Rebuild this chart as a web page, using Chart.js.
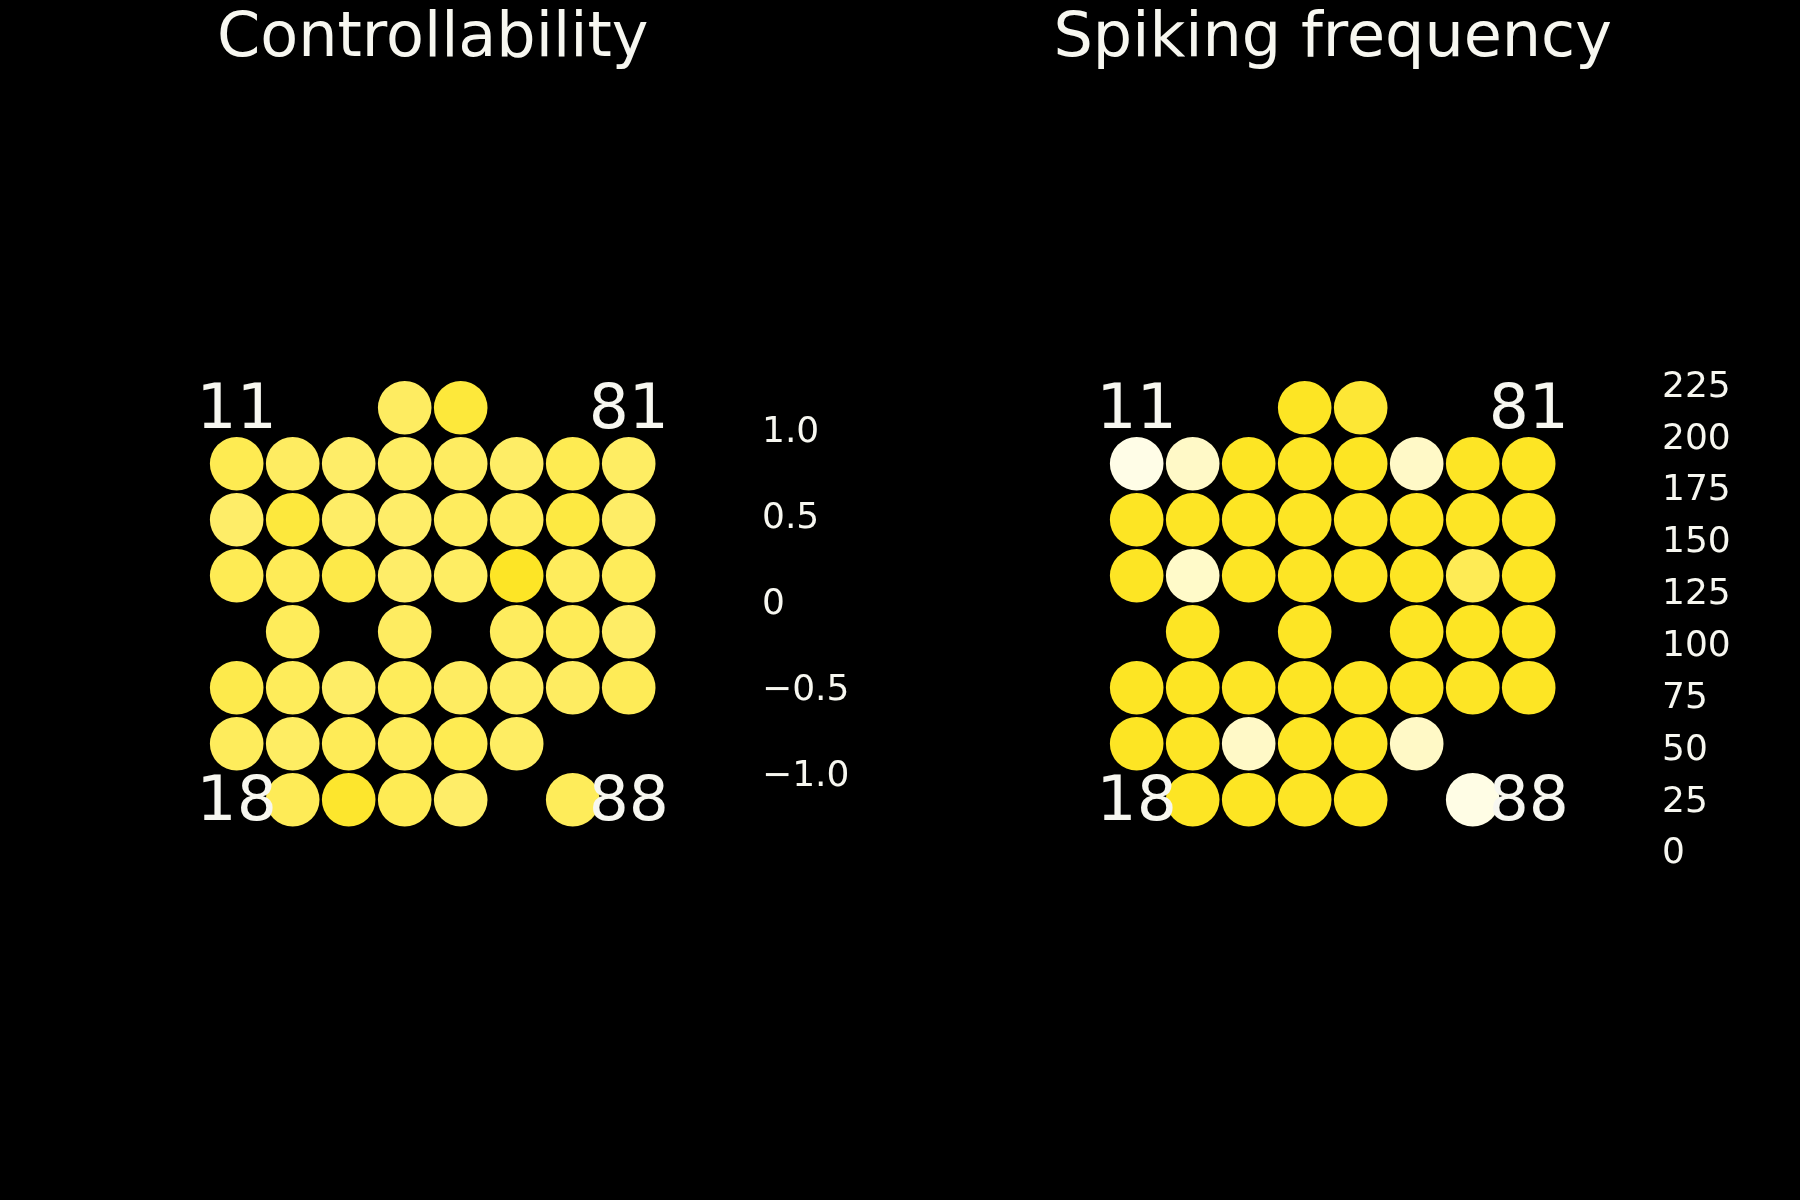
<!DOCTYPE html>
<html>
<head>
<meta charset="utf-8">
<script src="https://cdn.jsdelivr.net/npm/chart.js@4.4.1/dist/chart.umd.min.js"></script>
<style>
  html, body { margin: 0; padding: 0; background: #000; }
  #wrap { width: 1800px; height: 1200px; display: flex; }
  canvas { display: block; }
</style>
</head>
<body>
<div id="wrap">
  <canvas id="c1" width="900" height="1200"></canvas>
  <canvas id="c2" width="900" height="1200"></canvas>
</div>
<script>
// ---- data ----
// electrode id = column*10 + row (8x8 array, 11 top-left, 81 top-right, 18 bottom-left, 88 bottom-right)
const electrodes = [
  41, 51,
  12, 22, 32, 42, 52, 62, 72, 82,
  13, 23, 33, 43, 53, 63, 73, 83,
  14, 24, 34, 44, 54, 64, 74, 84,
  25, 45, 65, 75, 85,
  16, 26, 36, 46, 56, 66, 76, 86,
  17, 27, 37, 47, 57, 67,
  28, 38, 48, 58, 78
];
const controllability = [
  0.35, 0.72,
  0.50, 0.35, 0.28, 0.32, 0.35, 0.30, 0.50, 0.33,
  0.28, 0.70, 0.30, 0.28, 0.38, 0.40, 0.65, 0.30,
  0.48, 0.45, 0.58, 0.28, 0.33, 0.92, 0.40, 0.42,
  0.42, 0.35, 0.38, 0.45, 0.30,
  0.55, 0.42, 0.30, 0.42, 0.35, 0.33, 0.35, 0.45,
  0.40, 0.33, 0.45, 0.40, 0.50, 0.33,
  0.45, 0.85, 0.48, 0.28, 0.42
];
const spikingFrequency = [
  218, 200,
  5, 40, 218, 217, 219, 40, 217, 218,
  218, 217, 219, 218, 216, 218, 217, 218,
  218, 38, 218, 217, 218, 219, 165, 218,
  218, 217, 218, 219, 218,
  218, 219, 217, 218, 218, 219, 217, 218,
  218, 217, 40, 218, 219, 42,
  218, 219, 217, 218, 8
];
const cornerLabels = ['11', '81', '18', '88'];
const titles = ['Controllability', 'Spiking frequency'];
const ctrlTicks = [-1.0, -0.5, 0, 0.5, 1.0];
const ctrlTickLabels = ['\u22121.0', '\u22120.5', '0', '0.5', '1.0'];
const freqTicks = [0, 25, 50, 75, 100, 125, 150, 175, 200, 225];
const freqTickLabels = ['0', '25', '50', '75', '100', '125', '150', '175', '200', '225'];

// ---- colour map (pale ivory -> yellow) ----
const cmapLow = [255, 254, 236];
const cmapHigh = [253, 228, 30];
function cmap(t) {
  t = Math.max(0, Math.min(1, t));
  const c = cmapLow.map((lo, i) => Math.round(lo + (cmapHigh[i] - lo) * t));
  return `rgb(${c[0]},${c[1]},${c[2]})`;
}

const TEXT = '#f7f7f0';
Chart.defaults.font.family = "'DejaVu Sans', sans-serif";

const bgPlugin = {
  id: 'bg',
  beforeDraw(chart) {
    const ctx = chart.ctx;
    ctx.save();
    ctx.fillStyle = '#000';
    ctx.fillRect(0, 0, chart.width, chart.height);
    ctx.restore();
  }
};

const cornerPlugin = {
  id: 'corners',
  afterDatasetsDraw(chart) {
    const ctx = chart.ctx;
    const xs = chart.scales.x, ys = chart.scales.y;
    ctx.save();
    ctx.fillStyle = TEXT;
    ctx.font = "63px 'DejaVu Sans'";
    ctx.textAlign = 'center';
    ctx.textBaseline = 'middle';
    cornerLabels.forEach(lbl => {
      const col = Number(lbl[0]), row = Number(lbl[1]);
      ctx.fillText(lbl, xs.getPixelForValue(col), ys.getPixelForValue(row) + 4);
    });
    ctx.restore();
  }
};

function makeChart(id, title, values, vmin, vmax, ticks, tickLabels, cbMin, cbMax) {
  const points = electrodes.map((e, i) => ({ x: Math.floor(e / 10), y: e % 10, v: values[i] }));
  return new Chart(document.getElementById(id), {
    type: 'scatter',
    data: {
      datasets: [{
        data: points,
        pointRadius: 26.8,
        pointHoverRadius: 26.8,
        borderWidth: 0,
        pointBorderWidth: 0,
        backgroundColor: ctx => ctx.raw ? cmap((ctx.raw.v - vmin) / (vmax - vmin)) : '#000'
      }]
    },
    options: {
      responsive: false,
      animation: false,
      events: [],
      devicePixelRatio: 1,
      layout: { padding: { left: 110.4, right: 25, top: 0, bottom: 332.6 } },
      plugins: {
        legend: { display: false },
        tooltip: { enabled: false },
        title: {
          display: true,
          text: title,
          fullSize: false,
          color: TEXT,
          font: { size: 62, weight: 'normal', lineHeight: 1.0 },
          padding: { top: 9, bottom: 269 }
        }
      },
      scales: {
        x: { type: 'linear', min: -1.255, max: 10.255, display: false },
        y: { type: 'linear', min: -0.209, max: 9.209, reverse: true, display: false },
        cb: {
          type: 'linear',
          position: 'right',
          min: cbMin,
          max: cbMax,
          afterBuildTicks: axis => { axis.ticks = ticks.map(v => ({ value: v })); },
          afterFit: s => { s.width = 120; },
          grid: { display: false, drawTicks: false },
          border: { display: false },
          ticks: {
            autoSkip: false,
            color: TEXT,
            padding: 7,
            crossAlign: 'near',
            font: { size: 36 },
            callback: (value, index) => tickLabels[ticks.indexOf(value)] ?? ''
          }
        }
      }
    },
    plugins: [bgPlugin, cornerPlugin]
  });
}

makeChart('c1', titles[0], controllability, -1, 1, ctrlTicks, ctrlTickLabels, -1.5255, 1.5407);
makeChart('c2', titles[1], spikingFrequency, 0, 225, freqTicks, freqTickLabels, -6.46, 247.81);
</script>
</body>
</html>
